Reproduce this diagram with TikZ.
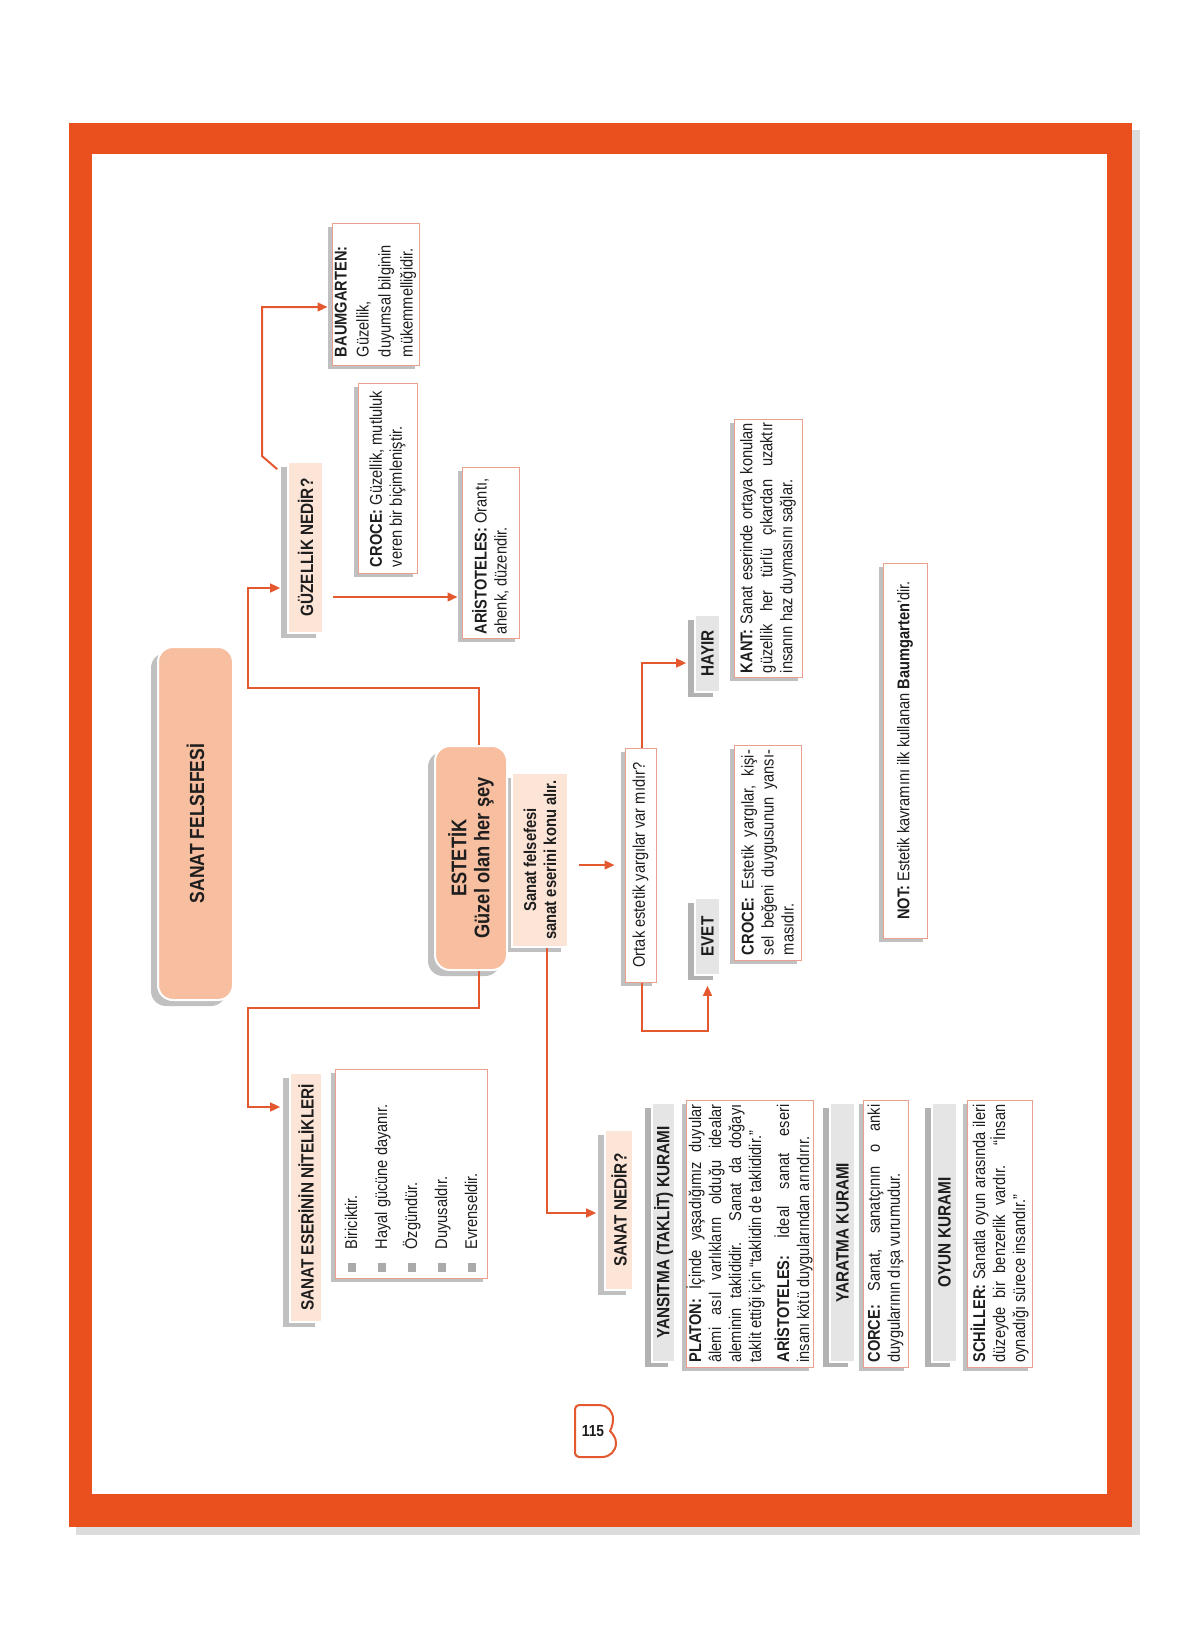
\documentclass[tikz,border=0pt]{standalone}
\usepackage{fontspec}
\setmainfont[FakeStretch=0.86]{Liberation Sans}
\usepackage{graphicx}
\usetikzlibrary{shadows,arrows.meta,calc}
\definecolor{frameor}{RGB}{233,80,30}
\definecolor{framesh}{RGB}{220,220,220}
\definecolor{lineor}{RGB}{228,88,48}
\definecolor{peach}{RGB}{247,190,160}
\definecolor{peachl}{RGB}{252,228,215}
\definecolor{hgray}{RGB}{229,229,229}
\definecolor{shgray}{RGB}{192,192,192}
\definecolor{shgrayd}{RGB}{178,178,178}
\definecolor{bordsal}{RGB}{234,160,140}
\definecolor{bulgray}{RGB}{170,170,170}
\definecolor{txt}{RGB}{30,30,30}
\newdimen\pxu \pxu=0.5pt
\newcommand{\Rot}[1]{\rotatebox{90}{#1}}
\newcommand{\RotP}[2]{\rotatebox{90}{\parbox{#1\pxu}{\hyphenpenalty=10000 \tolerance=10000 #2}}}
\newcommand{\Bul}{\textcolor{bulgray}{\rule[0.3pt]{4.3pt}{4.3pt}}\hspace{7pt}}
\newcommand{\Bx}[7]{\node[#2, inner sep=0pt, minimum width={(#5-#3)*0.5pt}, minimum height={(#6-#4)*0.5pt}] (#1) at ({(#3+#5)/2},{(#4+#6)/2}) {#7};}
\tikzset{
 rbox/.style={rounded corners=7.5pt, fill=peach, draw=white, line width=1pt, text=txt,
   drop shadow={shadow xshift=-3.5pt,shadow yshift=-3pt,opacity=1,fill=shgray}},
 hpbox/.style={fill=peachl, draw=white, line width=0.8pt, text=txt,
   font=\bfseries\fontsize{8.9}{10.5}\selectfont,
   drop shadow={shadow xshift=-3.5pt,shadow yshift=-2.5pt,opacity=1,fill=shgray}},
 hgbox/.style={fill=hgray, draw=white, line width=0.8pt, text=txt,
   font=\bfseries\fontsize{8.9}{10.5}\selectfont,
   drop shadow={shadow xshift=-3.5pt,shadow yshift=-2.5pt,opacity=1,fill=shgrayd}},
 tbox/.style={fill=white, draw=bordsal, line width=0.5pt, text=txt,
   font=\fontsize{8.5}{10}\selectfont,
   drop shadow={shadow xshift=-1.8pt,shadow yshift=-1.8pt,opacity=1,fill=shgray}},
 conn/.style={draw=lineor, line width=1pt, -{Triangle[length=5pt,width=4.4pt]}}
}
\begin{document}
\begin{tikzpicture}[x=0.5pt,y=-0.5pt]
\useasboundingbox (0,0) rectangle (1200,1650);
% frame
\fill[framesh] (76,130) rectangle (1140,1535);
\fill[frameor] (69,123) rectangle (1132,1527);
\fill[white] (92,154) rectangle (1107,1494);

% main boxes
\Bx{sfk}{hpbox, font=\bfseries\fontsize{8.6}{10}\selectfont}{512}{773}{568}{947}{\RotP{170}{\centering Sanat felsefesi\\ sanat eserini konu alır.}}
\Bx{sf}{rbox, font=\bfseries\fontsize{10.2}{12}\selectfont}{158}{647}{233}{1000}{\Rot{SANAT FELSEFESİ}}
\Bx{est}{rbox, font=\bfseries\fontsize{10.6}{11.5}\selectfont}{435}{746}{507}{970}{\RotP{210}{\centering ESTETİK\\ Güzel olan her şey}}

% guzellik branch
\Bx{gz}{hpbox}{288}{462}{323}{633}{\Rot{GÜZELLİK NEDİR?}}
\Bx{baum}{tbox}{332}{223}{419}{365}{\RotP{126}{\raggedright\baselineskip=11pt \textbf{BAUMGARTEN:}\\ Güzellik,\\ duyumsal bilginin\\ mükemmelliğidir.}}
\Bx{crA}{tbox}{358}{383}{417}{573}{\RotP{178}{\raggedright \textbf{CROCE:} Güzellik, mutluluk\\ veren bir biçimleniştir.}}
\Bx{arA}{tbox}{462}{467}{519}{638}{\RotP{164}{\raggedright \textbf{ARİSTOTELES:} Orantı,\\ ahenk, düzendir.}}

% ortak branch
\Bx{ortak}{tbox}{625}{748}{656}{982}{\Rot{Ortak estetik yargılar var mıdır?}}
\Bx{hayir}{hgbox}{695}{615}{720}{692}{\Rot{HAYIR}}
\Bx{evet}{hgbox}{695}{898}{720}{975}{\Rot{EVET}}
\Bx{kant}{tbox}{734}{419}{802}{677}{\RotP{250}{\textbf{KANT:} Sanat eserinde ortaya konulan\linebreak güzellik her türlü çıkardan uzaktır\linebreak insanın haz duymasını sağlar.}}
\Bx{crB}{tbox}{734}{745}{801}{960}{\RotP{205}{\textbf{CROCE:} Estetik yargılar, kişi-\linebreak sel beğeni duygusunun yansı-\linebreak masıdır.}}
\Bx{note}{tbox}{883}{563}{927}{938}{\Rot{\textbf{NOT:} Estetik kavramını ilk kullanan \textbf{Baumgarten}’dir.}}

% nitelikler
\Bx{sen}{hpbox}{290}{1073}{322}{1322}{\Rot{SANAT ESERİNİN NİTELİKLERİ}}
\Bx{list}{tbox}{335}{1069}{487}{1278}{\RotP{197}{\raggedright\baselineskip=15pt \Bul Biriciktir.\\ \Bul Hayal gücüne dayanır.\\ \Bul Özgündür.\\ \Bul Duyusaldır.\\ \Bul Evrenseldir.}}

% sanat nedir
\Bx{sn}{hpbox}{605}{1130}{633}{1290}{\Rot{SANAT NEDİR?}}
\Bx{yans}{hgbox}{652}{1103}{675}{1362}{\Rot{YANSITMA (TAKLİT) KURAMI}}
\Bx{plat}{tbox}{686}{1100}{813}{1367}{\RotP{258}{\textbf{PLATON:} İçinde yaşadığımız duyular\linebreak âlemi asıl varlıkların olduğu idealar\linebreak aleminin taklididir. Sanat da doğayı\linebreak taklit ettiği için “taklidin de taklididir.”\par\vspace{4pt}\textbf{ARİSTOTELES:} İdeal sanat eseri\linebreak insanı kötü duygularından arındırır.}}
\Bx{yar}{hgbox}{830}{1103}{855}{1362}{\Rot{YARATMA KURAMI}}
\Bx{corce}{tbox}{863}{1100}{908}{1367}{\RotP{258}{\textbf{CORCE:} Sanat, sanatçının o anki\linebreak duygularının dışa vurumudur.}}
\Bx{oyun}{hgbox}{932}{1103}{957}{1362}{\Rot{OYUN KURAMI}}
\Bx{sch}{tbox}{967}{1100}{1032}{1367}{\RotP{258}{\textbf{SCHİLLER:} Sanatla oyun arasında ileri\linebreak düzeyde bir benzerlik vardır. “İnsan\linebreak oynadığı sürece insandır.”}}

% connectors
\draw[conn, shorten >=3.5pt] ([xshift=4pt]est.north) |- (248,688) |- ([yshift=-20.25pt]gz.west);
\draw[conn, shorten >=4.5pt] ([xshift=4pt]est.south) |- (248,1008) |- ([yshift=45.25pt]sen.west);
\draw[conn, shorten >=2pt] ([xshift=-5pt,yshift=-4pt]gz.north west) -- (262,456) |- ([yshift=-6.5pt]baum.west);
\draw[conn, shorten >=2pt] ([xshift=4.5pt,yshift=-24.75pt]gz.east) coordinate (d0) -- (d0 -| arA.west);
\draw[conn, shorten >=5pt] ([xshift=5pt,yshift=-2.5pt]sfk.east) coordinate (e0) -- (e0 -| ortak.west);
\draw[conn, shorten >=4pt] ([xshift=0.75pt]ortak.north) |- ([yshift=-4.75pt]hayir.west);
\draw[conn, shorten >=5pt] ([xshift=0.75pt]ortak.south) -- ++(0,48) -| (evet.south);
\draw[conn, shorten >=4pt] ([xshift=3.5pt]sfk.south) |- ([yshift=-1.5pt]sn.west);

% page number
\draw[lineor, line width=1pt] (579,1405) -- (600,1405) .. controls (607,1405) and (613,1411) .. (613,1419) .. controls (613,1425) and (611,1429) .. (610,1431) .. controls (613,1434) and (616,1438) .. (616,1443) .. controls (616,1451) and (610,1457) .. (602,1457) -- (579,1457) .. controls (577,1457) and (575,1455) .. (575,1453) -- (575,1409) .. controls (575,1407) and (577,1405) .. (579,1405) -- cycle;
\node[font=\bfseries\fontsize{8}{9}\selectfont, text=txt, inner sep=0pt] (pnum) at (593,1431) {115};
\end{tikzpicture}
\end{document}
